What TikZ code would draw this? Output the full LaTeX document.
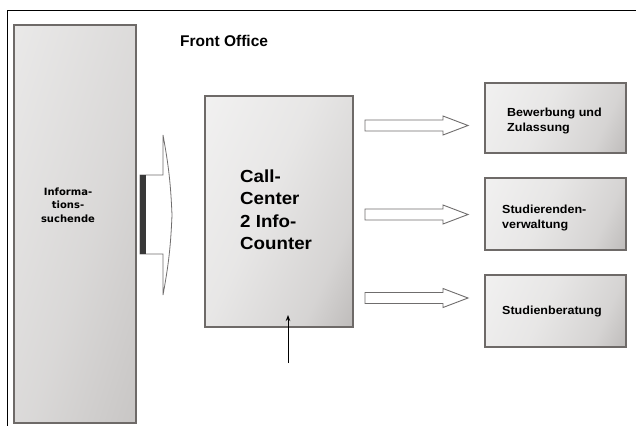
\documentclass[tikz,border=0pt]{standalone}
\usepackage{fontspec}
\setmainfont{Liberation Sans}
\newfontfamily\sfA[FakeStretch=1.07]{Liberation Sans}
\newfontfamily\dv{DejaVu Sans}
\usetikzlibrary{arrows.meta}
\definecolor{boxline}{HTML}{6E6A68}
\definecolor{arrline}{HTML}{6F6D6D}
\definecolor{warm}{HTML}{3A322E}
\pgfdeclareverticalshading{boxshade}{100bp}{%
  color(0bp)=(warm!50!white);
  color(12bp)=(warm!37!white);
  color(30bp)=(warm!21!white);
  color(55bp)=(warm!12!white);
  color(100bp)=(warm!4!white)}
\pgfdeclareverticalshading{tallshade}{100bp}{%
  color(0bp)=(warm!42!white);
  color(15bp)=(warm!29!white);
  color(45bp)=(warm!19!white);
  color(85bp)=(warm!10!white);
  color(100bp)=(warm!6!white)}
\tikzset{
  panel/.style={draw=boxline, line width=1.6pt, inner sep=0pt,
    shading=boxshade, shading angle=65},
  tallpanel/.style={draw=boxline, line width=1.6pt, inner sep=0pt,
    shading=tallshade, shading angle=72},
  lbl/.style={inner sep=0pt, align=left, anchor=north west},
  hollow/.style={draw=arrline, line width=0.9pt, fill=white, line join=miter},
  pics/blockarrow/.style={code={
    \draw[hollow] (0,-5.5) -- (78,-5.5) -- (78,-9.5) -- (103,0) -- (78,9.5) -- (78,5.5) -- (0,5.5) -- cycle;
  }}
}
\begin{document}
\begin{tikzpicture}[x=1pt,y=-1pt]
\useasboundingbox (0,0) rectangle (636,426);
% outer frame
\coordinate (fr1) at (636,10);
\coordinate (fr2) at (7,10);
\coordinate (fr3) at (7,426);
\draw[line width=1pt] (fr1) -- (fr2) -- (fr3);

% title
\node[inner sep=0pt, anchor=base west, font=\bfseries\fontsize{15.5}{18}\selectfont] (title) at (180,46.7) {Front Office};

% left tall box
\node[tallpanel, minimum width=122pt, minimum height=398pt] (info) at (75,224) {};
\node[inner sep=0pt, anchor=north, align=center, font=\dv\bfseries\fontsize{10}{13.5}\selectfont] (infotext) at (68,187.6) {Informa-\\tions-\\suchende};

% big block arrow
\draw[hollow, line width=0.8pt] (140,175) -- (163,175) -- (163,135) to[bend left=4] (172,215) to[bend left=4] (163,295) -- (163,254) -- (140,254) -- cycle;
\fill[black!78] (140,175) rectangle (146,254);

% call center box
\node[panel, minimum width=148pt, minimum height=231pt] (cc) at (279,211.5) {};
\node[lbl, font=\sfA\bfseries\fontsize{17.5}{22.5}\selectfont] (cctext) at (240,169.3) {Call-\\Center\\2 Info-\\Counter};

% small arrow
\coordinate (ua) at (288,363);
\coordinate (ut) at (288,315);
\draw[line width=0.9pt, -{Stealth[length=6pt,width=4.5pt]}] (ua) -- (ut);

% right boxes
\node[panel, minimum width=141pt, minimum height=70pt] (b1) at (555.5,118) {};
\node[panel, minimum width=141pt, minimum height=72pt] (b2) at (555.5,214) {};
\node[panel, minimum width=141pt, minimum height=72pt] (b3) at (555.5,311) {};
\node[lbl, font=\sfA\bfseries\fontsize{11.7}{15}\selectfont] (t1) at (507,108.3) {Bewerbung und\\Zulassung};
\node[lbl, font=\sfA\bfseries\fontsize{11.7}{15}\selectfont] (t2) at (502,204.8) {Studierenden-\\verwaltung};
\node[lbl, font=\sfA\bfseries\fontsize{11.7}{15}\selectfont] (t3) at (502,305.8) {Studienberatung};

% hollow arrows
\pic at (365,125.5) {blockarrow};
\pic at (365,214.5) {blockarrow};
\pic at (365,298) {blockarrow};
\end{tikzpicture}
\end{document}
